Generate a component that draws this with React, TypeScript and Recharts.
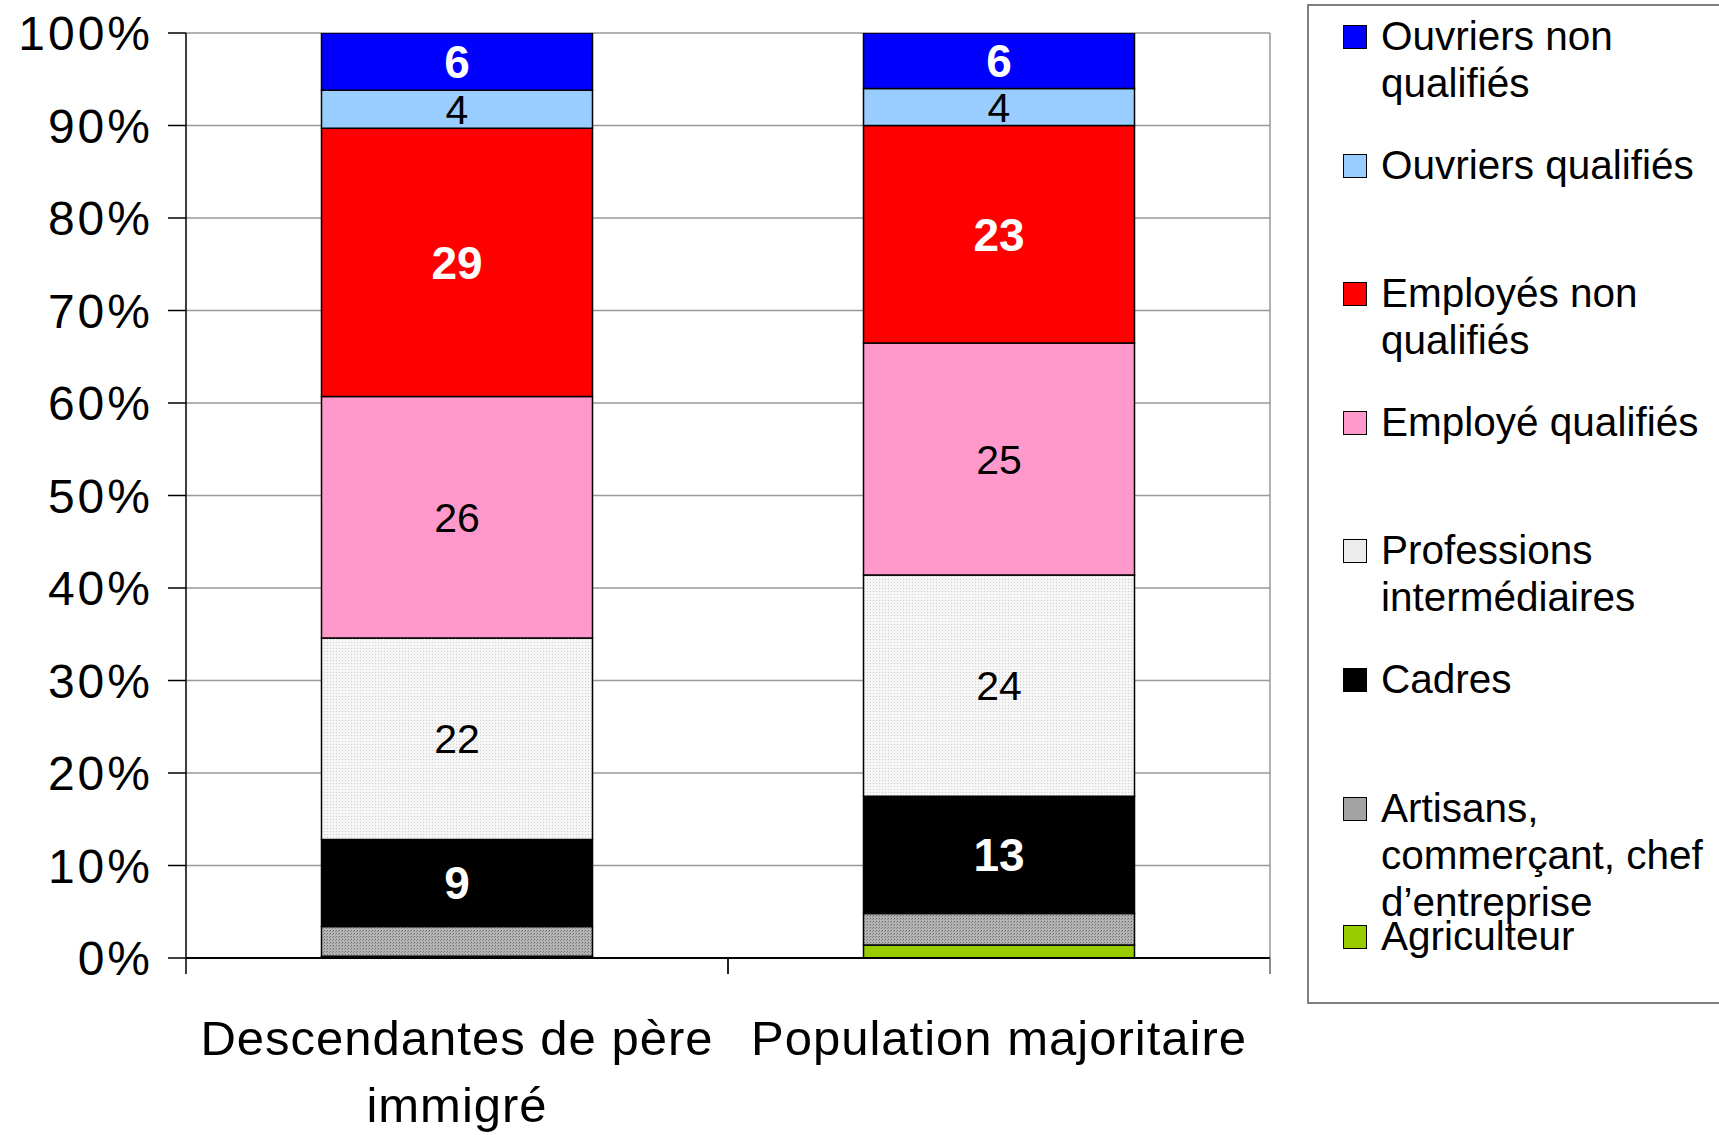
import React from "react";
import {
  BarChart,
  Bar,
  XAxis,
  YAxis,
  CartesianGrid,
  LabelList,
} from "recharts";

// categories (x axis), each label may wrap on several lines
const categories = ["Descendantes de père immigré", "Population majoritaire"];
const categoryLines = [["Descendantes de père", "immigré"], ["Population majoritaire"]];

// shares in %, bottom to top of the stack
const agriculteur = [0.2, 1.4];
const artisans = [3.2, 3.4];
const cadres = [9.4, 12.7];
const professions = [21.8, 23.9];
const employeQual = [26.1, 25.1];
const employesNonQual = [29.0, 23.5];
const ouvriersQual = [4.1, 4.0];
const ouvriersNonQual = [6.2, 6.0];

// printed values inside the bars (null = no label)
const lblAgriculteur = [null, null];
const lblArtisans = [null, null];
const lblCadres = ["9", "13"];
const lblProfessions = ["22", "24"];
const lblEmployeQual = ["26", "25"];
const lblEmployesNonQual = ["29", "23"];
const lblOuvriersQual = ["4", "4"];
const lblOuvriersNonQual = ["6", "6"];

const yTicks = [0, 10, 20, 30, 40, 50, 60, 70, 80, 90, 100];

const series = [
  { key: "agri", name: "Agriculteur", values: agriculteur, labels: lblAgriculteur, fill: "#99CC00", swatch: "#99CC00", bold: false },
  { key: "arti", name: "Artisans, commerçant, chef d’entreprise", values: artisans, labels: lblArtisans, fill: "url(#patArtisans)", swatch: "#a3a3a3", bold: false },
  { key: "cadr", name: "Cadres", values: cadres, labels: lblCadres, fill: "#000000", swatch: "#000000", bold: true },
  { key: "prof", name: "Professions intermédiaires", values: professions, labels: lblProfessions, fill: "url(#patProf)", swatch: "#ececec", bold: false },
  { key: "empq", name: "Employé qualifiés", values: employeQual, labels: lblEmployeQual, fill: "#FF99CC", swatch: "#FF99CC", bold: false },
  { key: "empn", name: "Employés non qualifiés", values: employesNonQual, labels: lblEmployesNonQual, fill: "#FF0000", swatch: "#FF0000", bold: true },
  { key: "ouvq", name: "Ouvriers qualifiés", values: ouvriersQual, labels: lblOuvriersQual, fill: "#99CCFF", swatch: "#99CCFF", bold: false },
  { key: "ouvn", name: "Ouvriers non qualifiés", values: ouvriersNonQual, labels: lblOuvriersNonQual, fill: "#0000FF", swatch: "#0000FF", bold: true },
];

// legend order (top to bottom) and how the text wraps
const legendOrder = ["ouvn", "ouvq", "empn", "empq", "prof", "cadr", "arti", "agri"];
const legendLines: Record<string, string[]> = {
  ouvn: ["Ouvriers non", "qualifiés"],
  ouvq: ["Ouvriers qualifiés"],
  empn: ["Employés non", "qualifiés"],
  empq: ["Employé qualifiés"],
  prof: ["Professions", "intermédiaires"],
  cadr: ["Cadres"],
  arti: ["Artisans,", "commerçant, chef", "d’entreprise"],
  agri: ["Agriculteur"],
};

const FONT = '"Liberation Sans", Arial, sans-serif';
const W = 1719;
const H = 1135;
const Y_AXIS_W = 186;
const X_AXIS_H = 177;
const TOP = 33;
const RIGHT = 449;
const PLOT_W = W - Y_AXIS_W - RIGHT;
const HALF_BAND = PLOT_W / categories.length / 2;

const data = categories.map((c, i) => {
  const row: Record<string, string | number | null> = { cat: c };
  series.forEach((s) => {
    row[s.key] = s.values[i];
    row[s.key + "_lbl"] = s.labels[i];
  });
  return row;
});

function XTick(props: any) {
  const { x, y, index } = props;
  const lines = categoryLines[index] || [];
  return (
    <g>
      <line x1={x - HALF_BAND} x2={x - HALF_BAND} y1={y} y2={y + 16} stroke="#000" strokeWidth={1.5} />
      <line x1={x + HALF_BAND} x2={x + HALF_BAND} y1={y} y2={y + 16} stroke="#666" strokeWidth={1.5} />
      <text textAnchor="middle" fontFamily={FONT} fontSize={49} letterSpacing={1} fill="#000">
        {lines.map((l, i) => (
          <tspan key={i} x={x} y={y + 97 + i * 67}>
            {l}
          </tspan>
        ))}
      </text>
    </g>
  );
}

function Legend() {
  return (
    <div
      style={{
        position: "absolute",
        left: 1307,
        top: 4,
        width: 430,
        height: 1000,
        border: "2px solid #808080",
        boxSizing: "border-box",
        background: "#fff",
        fontFamily: FONT,
        fontSize: 40.5,
        color: "#000",
      }}
    >
      {legendOrder.map((k, i) => {
        const s = series.find((d) => d.key === k)!;
        return (
          <div
            key={k}
            style={{ position: "absolute", left: 0, top: 7 + i * 128.6 }}
          >
            <div
              style={{
                position: "absolute",
                left: 34,
                top: 12,
                width: 24,
                height: 24,
                background: s.swatch,
                border: "1.5px solid #000",
                boxSizing: "border-box",
              }}
            />
            <div style={{ position: "absolute", left: 72, top: 0, whiteSpace: "nowrap", lineHeight: "47px" }}>
              {legendLines[k].map((l, j) => (
                <div key={j}>{l}</div>
              ))}
            </div>
          </div>
        );
      })}
    </div>
  );
}

export default function App() {
  return (
    <div style={{ position: "absolute", left: 0, top: 0, width: W, height: H, background: "#fff", overflow: "hidden" }}>
      <BarChart
        width={W}
        height={H}
        data={data}
        margin={{ top: TOP, right: RIGHT, bottom: 0, left: 0 }}
        barCategoryGap="25%"
      >
        <defs>
          <pattern id="patProf" width="3" height="3" patternUnits="userSpaceOnUse">
            <rect width="3" height="3" fill="#f6f6f6" />
            <rect width="1" height="1" fill="#cfcfcf" />
          </pattern>
          <pattern id="patArtisans" width="3" height="3" patternUnits="userSpaceOnUse">
            <rect width="3" height="3" fill="#b4b4b4" />
            <rect width="1" height="1" fill="#6e6e6e" />
            <rect x="2" y="1" width="1" height="1" fill="#8a8a8a" />
          </pattern>
        </defs>
        <CartesianGrid
          stroke="#999"
          strokeWidth={1.5}
          horizontal
          vertical
          verticalCoordinatesGenerator={({ offset }: any) => [offset.left + offset.width]}
        />
        <XAxis
          dataKey="cat"
          height={X_AXIS_H}
          axisLine={{ stroke: "#000", strokeWidth: 2 }}
          tickLine={false}
          tickSize={0}
          tickMargin={0}
          interval={0}
          tick={<XTick />}
        />
        <YAxis
          width={Y_AXIS_W}
          domain={[0, 100]}
          ticks={yTicks}
          allowDataOverflow
          tickFormatter={(v) => `${v}%`}
          axisLine={{ stroke: "#000", strokeWidth: 1.5 }}
          tickLine={{ stroke: "#000", strokeWidth: 1.5 }}
          tickSize={18}
          tickMargin={15}
          tick={{ fontFamily: FONT, fontSize: 48, fill: "#000", letterSpacing: 3 }}
        />
        {series.map((s) => (
          <Bar
            key={s.key}
            dataKey={s.key}
            name={s.name}
            stackId="a"
            fill={s.fill}
            stroke="#000"
            strokeWidth={1.5}
            isAnimationActive={false}
          >
            <LabelList
              dataKey={s.key + "_lbl"}
              position="center"
              fill={s.bold ? "#fff" : "#000"}
              fontFamily={FONT}
              fontSize={s.bold ? 46 : 41}
              fontWeight={s.bold ? "bold" : "normal"}
            />
          </Bar>
        ))}
      </BarChart>
      <Legend />
    </div>
  );
}
